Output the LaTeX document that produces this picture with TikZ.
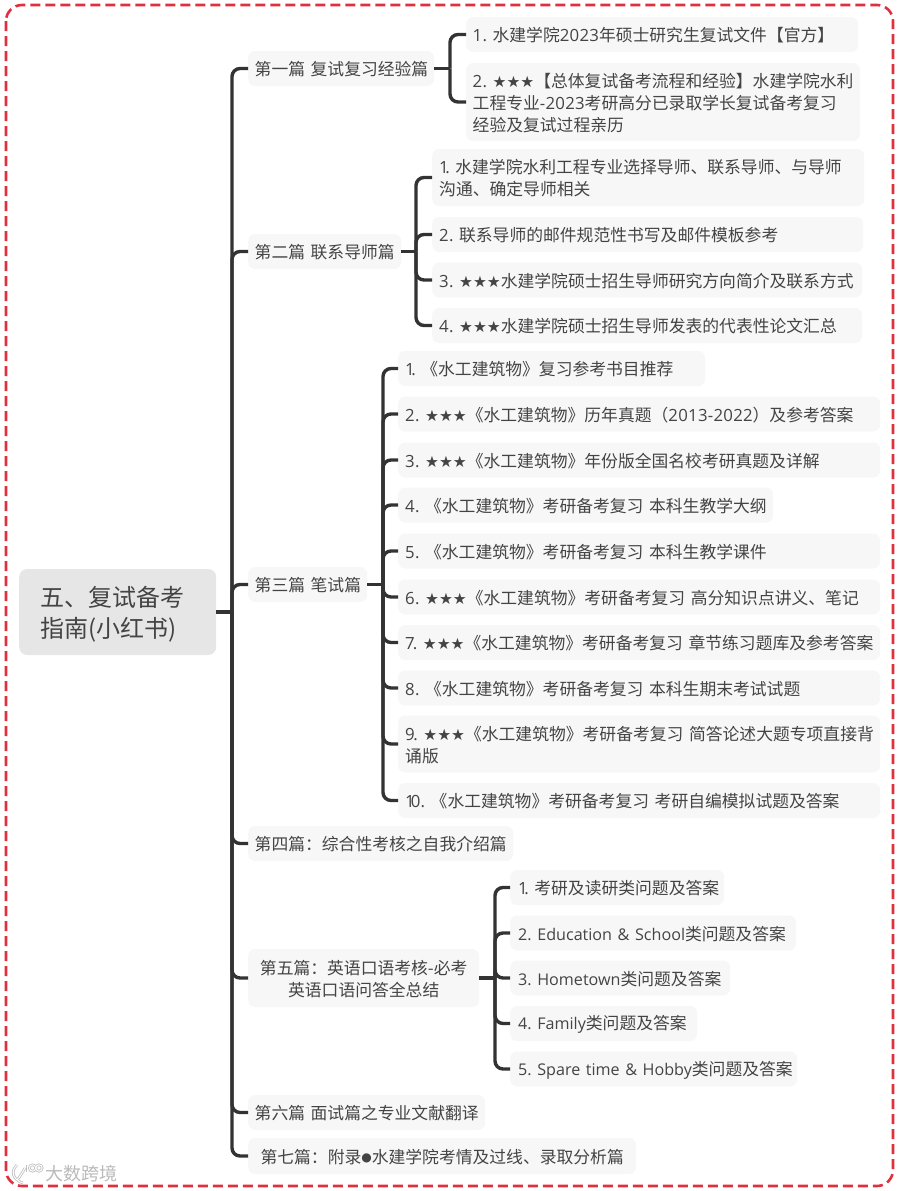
\documentclass[tikz,border=0pt]{standalone}
\usepackage{fontspec}
\setmainfont[WordSpace=0.6]{Noto Sans CJK SC}
\newfontfamily\latfont[LetterSpace=1.5,WordSpace=0.8]{Open Sans}
\newfontfamily\engfont[Scale=0.96,WordSpace=0.7]{Open Sans}
\newfontfamily\dotfont{DejaVu Sans}
\newcommand{\lat}[1]{\mbox{\latfont #1}}
\newcommand{\eng}[1]{\mbox{\engfont #1}}
\newcommand{\stars}{{\dotfont\fontsize{15.5}{16}\selectfont ★★★}}
\frenchspacing
\usetikzlibrary{calc,positioning}
\definecolor{linedark}{HTML}{333333}
\definecolor{textdark}{HTML}{444444}
\definecolor{leafgray}{HTML}{F7F7F7}
\definecolor{rootgray}{HTML}{E6E6E6}
\definecolor{frame}{HTML}{E0303F}
\tikzset{
  item/.style={anchor=west,fill=leafgray,rounded corners=7pt,text=textdark,align=left,
    inner xsep=6.5pt,inner ysep=0pt,minimum height=35pt,
    execute at begin node={\rule{0pt}{16pt}},
    font=\fontsize{16.8}{21.8}\selectfont},
  itemtwo/.style={item,minimum height=57pt},
  itemthree/.style={item,minimum height=78pt},
  insetb/.style={inner xsep=7pt},
  insetd/.style={inner xsep=8pt},
  rootbox/.style={item,fill=rootgray,inner xsep=21.5pt,minimum height=86pt,rounded corners=8pt,
    execute at begin node={\rule{0pt}{25pt}},
    font=\fontsize{24}{31}\selectfont},
  stem/.style={draw=linedark,line width=3.4pt},
  branch/.style={stem,rounded corners=8pt},
  markline/.style={draw=black!25,line width=2.6pt},
  markcore/.style={draw=white,line width=1pt},
}
\begin{document}
\begin{tikzpicture}[x=1pt,y=-1pt]
\useasboundingbox (0,0) rectangle (901,1191);
\draw[frame,line width=2.6pt,dash pattern=on 10pt off 5pt,rounded corners=16pt] (6,5) rectangle (893,1186);
% root and chapters
\node[rootbox,text width=154pt] (root) at (19,612) {五、复试备考\\指南(小红书)};
\node[item,text width=173pt] (sec1) at (248,68.5) {第一篇~复试复习经验篇};
\node[item,text width=140pt] (sec2) at (248,251.5) {第二篇~联系导师篇};
\node[item,text width=106pt] (sec3) at (248,584.5) {第三篇~笔试篇};
\node[item,text width=252pt] (sec4) at (248,843.5) {第四篇：综合性考核之自我介绍篇};
\node[item,text width=218pt,align=center,minimum height=58pt] (sec5) at (248,978) {第五篇：英语口语考核-必考\\英语口语问答全总结};
\node[item,text width=224pt] (sec6) at (248,1112.5) {第六篇~面试篇之专业文献翻译};
\node[item,text width=375pt,align=center,minimum height=36pt] (sec7) at (248,1156) {第七篇：附录\raisebox{1.5pt}{\dotfont\fontsize{12}{12}\selectfont ●}水建学院考情及过线、录取分析篇};
% chapter 1
\node[item,text width=379pt] (a1) at (466,34.5) {\lat{1.}~水建学院\lat{2023}年硕士研究生复试文件【官方】};
\node[itemthree,text width=381pt] (a2) at (466,102) {\lat{2.}~\stars【总体复试备考流程和经验】水建学院水利\\工程专业\lat{-2023}考研高分已录取学长复试备考复习\\经验及复试过程亲历};
% chapter 2
\node[itemtwo,insetb,text width=418pt] (b1) at (432,177.5) {\lat{1\kern-3.5pt.}~水建学院水利工程专业选择导师、联系导师、与导师\\沟通、确定导师相关};
\node[item,insetb,text width=417pt] (b2) at (432,234.5) {\lat{2.}~联系导师的邮件规范性书写及邮件模板参考};
\node[item,insetb,text width=416pt] (b3) at (432,280) {\lat{3.}~\stars 水建学院硕士招生导师研究方向简介及联系方式};
\node[item,insetb,text width=416pt] (b4) at (432,325.5) {\lat{4.}~\stars 水建学院硕士招生导师发表的代表性论文汇总};
% chapter 3
\node[item,insetb,text width=293pt] (c1) at (398,368.5) {\lat{1\kern-3.5pt.}~《水工建筑物》复习参考书目推荐};
\node[item,insetb,text width=468pt] (c2) at (398,414) {\lat{2.}~\stars《水工建筑物》历年真题（\lat{2013-2022}）及参考答案};
\node[item,insetb,text width=468pt] (c3) at (398,460) {\lat{3.}~\stars《水工建筑物》年份版全国名校考研真题及详解};
\node[item,insetb,text width=361pt] (c4) at (398,505) {\lat{4.}~《水工建筑物》考研备考复习~本科生教学大纲};
\node[item,insetb,text width=468pt] (c5) at (398,551) {\lat{5.}~《水工建筑物》考研备考复习~本科生教学课件};
\node[item,insetb,text width=468pt] (c6) at (398,597) {\lat{6.}~\stars《水工建筑物》考研备考复习~高分知识点讲义、笔记};
\node[item,insetb,text width=468pt] (c7) at (398,642.5) {\lat{7\kern-2pt.}~\stars《水工建筑物》考研备考复习~章节练习题库及参考答案};
\node[item,insetb,text width=468pt] (c8) at (398,688) {\lat{8.}~《水工建筑物》考研备考复习~本科生期末考试试题};
\node[itemtwo,insetb,text width=468pt] (c9) at (398,744) {\lat{9\kern-1.5pt.}~\stars《水工建筑物》考研备考复习~简答论述大题专项直接背\\诵版};
\node[item,insetb,text width=468pt] (c10) at (398,800.5) {\lat{1\kern-4pt 0.}~《水工建筑物》考研备考复习~考研自编模拟试题及答案};
% chapter 5
\node[item,insetd,text width=198pt] (d1) at (510,887.5) {\lat{1\kern-3.5pt.}~考研及读研类问题及答案};
\node[item,insetd,text width=270pt] (d2) at (510,933) {\eng{2. Education \& School}类问题及答案};
\node[item,insetd,text width=204pt] (d3) at (510,978) {\eng{3. Hometown}类问题及答案};
\node[item,insetd,text width=171pt] (d4) at (510,1023.5) {\eng{4. Family}类问题及答案};
\node[item,insetd,text width=271pt] (d5) at (510,1069) {\eng{5. Spare time \& Hobby}类问题及答案};
% trunks
\coordinate (t0) at (232,612);
\coordinate (t1) at (450,68.5);
\coordinate (t2) at (416,251.5);
\coordinate (t3) at (383,584.5);
\coordinate (t5) at (495,978);
\draw[stem] (root.east) -- (t0);
\foreach \c in {sec1,sec2,sec3,sec4,sec5,sec6,sec7}
  \draw[branch] (t0) |- (\c.west);
\draw[stem] (sec1.east) -- (t1);
\foreach \c in {a1,a2}
  \draw[branch] (t1) |- (\c.west);
\draw[stem] (sec2.east) -- (t2);
\foreach \c in {b1,b2,b3,b4}
  \draw[branch] (t2) |- (\c.west);
\draw[stem] (sec3.east) -- (t3);
\foreach \c in {c1,c2,c3,c4,c5,c6,c7,c8,c9,c10}
  \draw[branch] (t3) |- (\c.west);
\draw[stem] (sec5.east) -- (t5);
\foreach \c in {d1,d2,d3,d4,d5}
  \draw[branch] (t5) |- (\c.west);
% watermark
\node[anchor=west,inner sep=0pt,text=black!27,font=\fontsize{18}{18}\selectfont] (mark) at (45,1173.5) {大数跨境};
\foreach \s in {markline,markcore} {
  \draw[\s] (17,1165) .. controls (10,1171) and (13,1180) .. (23,1183);
  \draw[\s] (17,1180) .. controls (20,1177) and (22,1173) .. (25,1168);
  \draw[\s] (27,1165) -- (27,1172);
  \draw[\s] (32.5,1168) circle (3.2);
  \draw[\s] (39,1168) circle (3.2);
}
\end{tikzpicture}
\end{document}
